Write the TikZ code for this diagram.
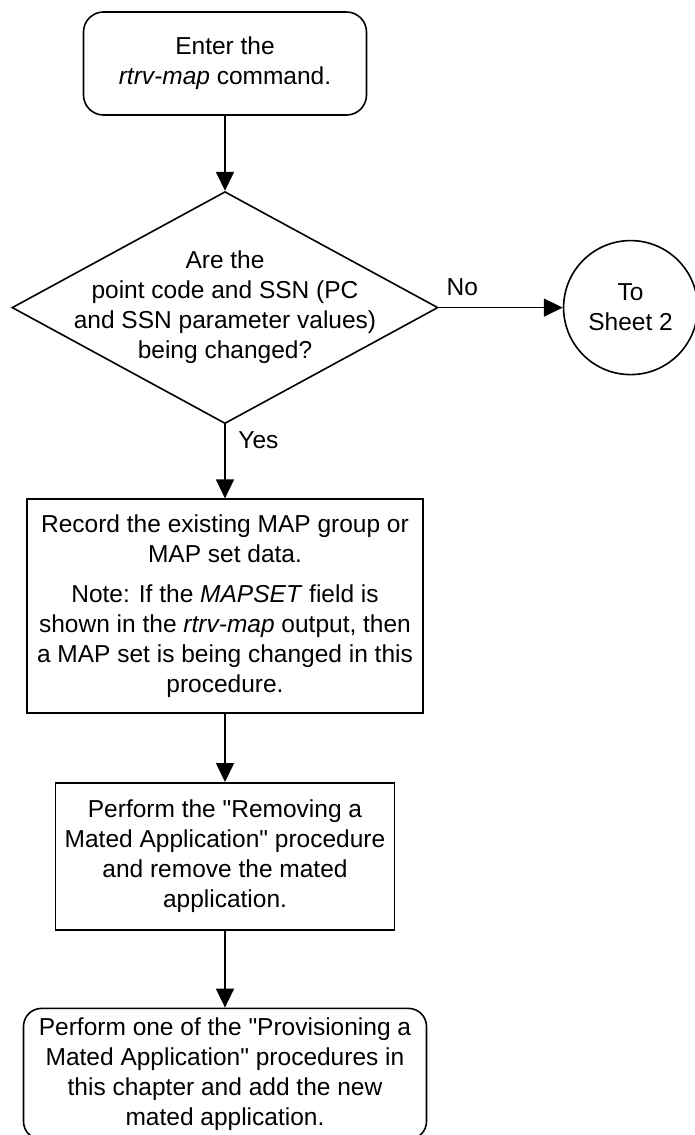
\documentclass[tikz,border=0pt]{standalone}
\usepackage{fontspec}
\setmainfont{Liberation Sans}[Ligatures=TeXOff]
\usepackage{tikz}
\usetikzlibrary{positioning,arrows.meta,shapes.geometric}

\begin{document}
\begin{tikzpicture}[
  font=\fontsize{12.25}{15}\selectfont,
  line width=0.8pt,
  >={Triangle[length=9.5pt,width=9pt]},
  term/.style={draw,rounded corners=10pt,align=center,inner sep=1pt},
  proc/.style={draw,align=center,inner sep=1pt},
  dec/.style={draw,diamond,align=center,inner sep=-25pt,minimum width=213pt,minimum height=116pt},
  conn/.style={draw,circle,align=center,minimum size=67pt,inner sep=0pt},
]
  \useasboundingbox (-112.5pt,31.75pt) rectangle (235pt,-535.75pt);

  \node[term,minimum width=141.5pt,minimum height=51.5pt] (enter) at (0,0) {Enter the\\\textit{rtrv-map} command.};
  \node[dec,below=37.5pt of enter] (changed) {Are the\\point code and SSN (PC\\and SSN parameter values)\\being changed?};
  \node[conn,right=62pt of changed] (sheet) {To\\Sheet 2};
  \node[proc,below=37pt of changed,minimum width=198pt,minimum height=107pt] (record) {Record the existing MAP group or\\MAP set data.\\[5pt]Note: If the \textit{MAPSET} field is\\shown in the \textit{rtrv-map} output, then\\a MAP set is being changed in this\\procedure.};
  \node[proc,below=34pt of record,minimum width=169.5pt,minimum height=73.5pt] (remove) {Perform the "Removing a\\Mated Application" procedure\\and remove the mated\\application.};
  \node[term,rounded corners=9pt,below=38.5pt of remove,minimum width=201.5pt,minimum height=65.5pt] (provision) {Perform one of the "Provisioning a\\Mated Application" procedures in\\this chapter and add the new\\mated application.};

  \draw[->] (enter) -- (changed);
  \draw[->] (changed) -- node[above=2pt,pos=0.19]{No} (sheet);
  \draw[->] (changed) -- node[right=3pt,pos=0.22]{Yes} (record);
  \draw[->] (record) -- (remove);
  \draw[->] (remove) -- (provision);
\end{tikzpicture}
\end{document}
